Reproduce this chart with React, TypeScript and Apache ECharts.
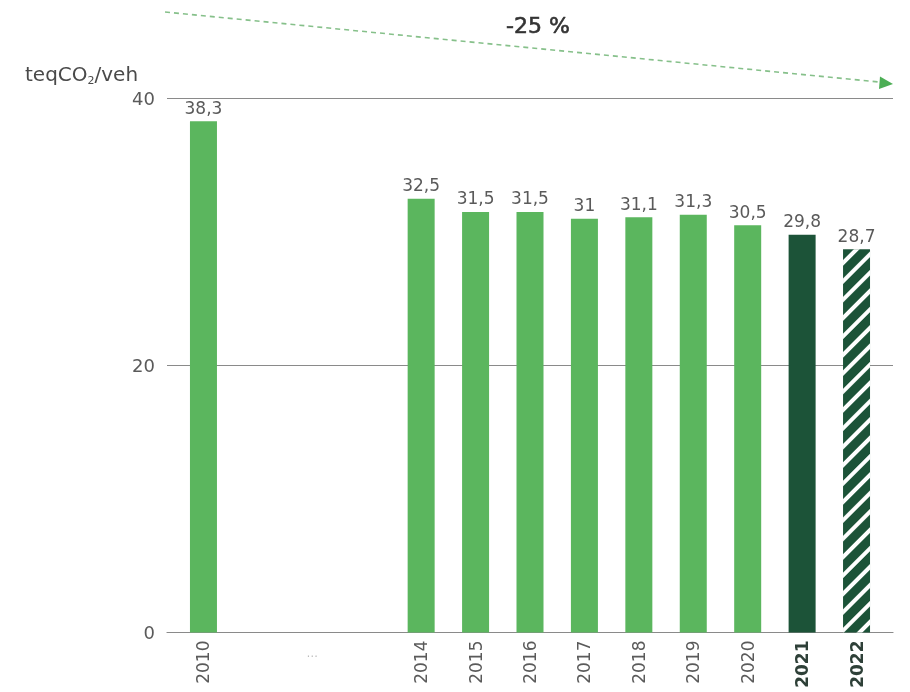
import React, { useEffect, useRef } from "react";
import * as echarts from "echarts";

const categories = ["2010", "", "…", "", "2014", "2015", "2016", "2017", "2018", "2019", "2020", "2021", "2022"];
const values: (number | null)[] = [38.3, null, null, null, 32.5, 31.5, 31.5, 31, 31.1, 31.3, 30.5, 29.8, 28.7];
const boldYears = ["2021", "2022"];
const yTicks = [0, 20, 40];
const trendLabel = "-25 %";
const unitLabel = ["teqCO", "2", "/veh"];

const LIGHT = "#5bb65e";
const DARK = "#1c5338";
const FONT = "'DejaVu Sans', sans-serif";

export default function App() {
  const ref = useRef<HTMLDivElement>(null);
  useEffect(() => {
    if (!ref.current) return;
    const chart = echarts.init(ref.current, undefined, { renderer: "svg" });

    const barData: any[] = [];
    values.forEach((v, i) => {
      if (v == null) return;
      const cat = categories[i];
      let itemStyle: any = { color: LIGHT };
      if (cat === "2021") itemStyle = { color: DARK };
      if (cat === "2022")
        itemStyle = {
          color: DARK,
          decal: {
            symbol: "rect",
            symbolSize: 1,
            dashArrayX: [[1, 0]],
            dashArrayY: [4, 9],
            rotation: -Math.PI / 4,
            color: "#ffffff",
          },
        };
      barData.push({ value: [i, v], itemStyle });
    });

    const labelIdx = categories
      .map((c, i) => (c && c !== "…" ? i : -1))
      .filter((i) => i >= 0);
    const dotsIdx = categories.indexOf("…");

    chart.setOption({
      animation: false,
      grid: { left: 167, right: 17, top: 98.5, bottom: 59.5, containLabel: false },
      xAxis: {
        type: "value",
        min: -0.67,
        max: 12.67,
        splitLine: { show: false },
        axisTick: { show: false },
        axisLine: { show: true, lineStyle: { color: "#8a8a8a", width: 1.2 } },
        axisLabel: {
          customValues: labelIdx,
          rotate: 90,
          margin: 8,
          fontSize: 17,
          fontFamily: FONT,
          color: "#5a5a5a",
          formatter: (val: number) => {
            const c = categories[Math.round(val)];
            return boldYears.includes(c) ? `{b|${c}}` : c;
          },
          rich: {
            b: { fontSize: 17, fontWeight: "bold", color: "#2e4038", fontFamily: FONT },
          },
        },
      },
      yAxis: {
        type: "value",
        min: yTicks[0],
        max: yTicks[yTicks.length - 1],
        interval: 20,
        axisLine: { show: false },
        axisTick: { show: false },
        splitLine: { show: true, lineStyle: { color: "#8a8a8a", width: 1.2 } },
        axisLabel: { margin: 12, fontSize: 18, fontFamily: FONT, color: "#5a5a5a" },
      },
      series: [
        {
          type: "bar",
          barWidth: 27,
          data: barData,
          label: {
            show: true,
            position: "top",
            distance: 5,
            fontSize: 17,
            fontFamily: FONT,
            color: "#5a5a5a",
            formatter: (p: any) => String(p.value[1]).replace(".", ","),
          },
        },
        {
          type: "scatter",
          silent: true,
          symbolSize: 0,
          data: [[dotsIdx, 0]],
          label: {
            show: true,
            position: "bottom",
            distance: 14,
            fontSize: 12,
            color: "#aaa",
            formatter: "…",
          },
        },
      ],
      graphic: [
        {
          type: "line",
          shape: { x1: 165, y1: 12, x2: 884, y2: 82.5 },
          style: { stroke: "#86c08a", lineWidth: 1.6, lineDash: [5, 4] },
        },
        {
          type: "polygon",
          shape: { points: [[880, 76.5], [893, 84], [879, 89]] },
          style: { fill: "#4cae55" },
        },
        {
          type: "text",
          x: 538,
          y: 25,
          style: {
            text: trendLabel,
            align: "center",
            verticalAlign: "middle",
            fontSize: 22,
            fontWeight: "normal",
            fontFamily: FONT,
            fill: "#333",
            stroke: "#333",
            lineWidth: 0.6,
          },
        },
        {
          type: "text",
          x: 25,
          y: 62,
          style: {
            text: `{a|${unitLabel[0]}}{s|${unitLabel[1]}}{a|${unitLabel[2]}}`,
            rich: {
              a: { fontSize: 20, lineHeight: 24, fontFamily: FONT, fill: "#4a4a4a" },
              s: { fontSize: 11, lineHeight: 24, fontFamily: FONT, fill: "#4a4a4a", verticalAlign: "bottom", padding: [11, 0, 0, 0] },
            },
          },
        },
      ],
    });
    return () => chart.dispose();
  }, []);
  return <div ref={ref} style={{ position: "fixed", left: 0, top: 0, width: 910, height: 692 }} />;
}
